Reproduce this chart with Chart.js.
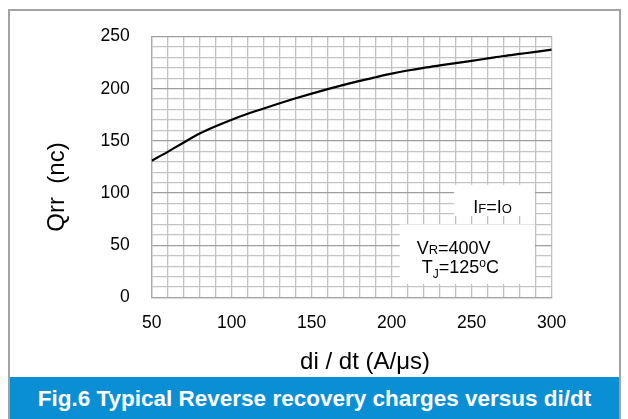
<!DOCTYPE html>
<html>
<head>
<meta charset="utf-8">
<script src="https://cdn.jsdelivr.net/npm/chart.js"></script>
<style>
body { margin: 0; background: #fff; font-family: "Liberation Sans", Arial, sans-serif; }
#frame { position: absolute; left: 8px; top: 9px; width: 609px; height: 408px; border: 2px solid #a3a3a3; border-bottom: none; pointer-events: none; }
#wrap { position: absolute; left: 0; top: 0; width: 628px; height: 377px; }
#caption { position: absolute; left: 10px; top: 377px; width: 609px; height: 42px; background: #0a8fd5; color: #fff;
  font-weight: bold; font-size: 22.5px; line-height: 43px; text-align: center; white-space: nowrap; }
</style>
</head>
<body>
<div id="wrap"><canvas id="qrrChart" width="628" height="377"></canvas></div>
<div id="frame"></div>
<div id="caption">Fig.6 Typical Reverse recovery charges versus di/dt</div>
<script>
// di/dt (A/us) and Qrr (nC)
var didt = [50, 60, 70, 80, 90, 100, 110, 120, 130, 140, 150, 160, 170, 180, 190, 200, 210, 220, 230, 240, 250, 260, 270, 280, 290, 300];
var qrr = [131, 139.5, 148.5, 157, 164, 170.3, 176, 181, 186, 190.8, 195.3, 199.6, 203.7, 207.5, 211, 214.4, 217.4, 220, 222.3, 224.5, 226.7, 229, 231.3, 233.3, 235.3, 237.4];
var xTickLabels = [50, 100, 150, 200, 250, 300];
var yTickLabels = [0, 50, 100, 150, 200, 250];

// condition boxes, placed in data units
var notes = [
    { box: [239, 108, 289.5, 78],
      lines: [{ x: 263, y: 87, center: true, runs: [['I', 18], ['F', 13], ['=', 18], ['I', 18], ['O', 13]] }] },
    { box: [205, 70, 289.5, 13],
      lines: [
          { x: 215.6, y: 48, runs: [['V', 18], ['R', 13], ['=400V', 18]] },
          { x: 218.8, y: 30, runs: [['T', 18], ['J', 12, 5], ['=125', 18], ['o', 12, -6], ['C', 18]] }
      ] }
];

var fontFamily = '"Liberation Sans", Arial, sans-serif';

var notesPlugin = {
    id: 'notes',
    afterDatasetsDraw: function(chart) {
        var ctx = chart.ctx;
        var xs = chart.scales.x, ys = chart.scales.y;
        ctx.save();
        notes.forEach(function(n) {
            var l = xs.getPixelForValue(n.box[0]), r = xs.getPixelForValue(n.box[2]);
            var t = ys.getPixelForValue(n.box[1]), b = ys.getPixelForValue(n.box[3]);
            ctx.fillStyle = '#fff';
            ctx.fillRect(l, t, r - l, b - t);
            ctx.fillStyle = '#000';
            ctx.textBaseline = 'alphabetic';
            n.lines.forEach(function(line) {
                var w = 0;
                line.runs.forEach(function(run) {
                    ctx.font = run[1] + 'px ' + fontFamily;
                    w += ctx.measureText(run[0]).width;
                });
                var px = xs.getPixelForValue(line.x);
                if (line.center) px -= w / 2;
                var base = ys.getPixelForValue(line.y) + 6.5;
                line.runs.forEach(function(run) {
                    ctx.font = run[1] + 'px ' + fontFamily;
                    ctx.fillText(run[0], px, base + (run[2] || 0));
                    px += ctx.measureText(run[0]).width;
                });
            });
        });
        ctx.restore();
    }
};

var ctx = document.getElementById('qrrChart').getContext('2d');

new Chart(ctx, {
    type: 'line',
    data: {
        datasets: [{
            data: didt.map(function(v, i) { return { x: v, y: qrr[i] }; }),
            borderColor: '#000',
            borderWidth: 2.2,
            cubicInterpolationMode: 'monotone',
            pointRadius: 0,
            fill: false
        }]
    },
    plugins: [notesPlugin],
    options: {
        responsive: false,
        animation: false,
        layout: { padding: { top: 36.5, right: 76.3, bottom: 0, left: 0 } },
        plugins: {
            legend: { display: false },
            tooltip: { enabled: false }
        },
        scales: {
            x: {
                type: 'linear',
                min: 50,
                max: 300,
                afterFit: function(s) { s.height = 79.5; },
                ticks: {
                    stepSize: 10,
                    autoSkip: false,
                    maxRotation: 0,
                    padding: 15,
                    color: '#000',
                    font: { family: fontFamily, size: 17.5 },
                    callback: function(v) { return xTickLabels.indexOf(v) >= 0 ? String(v) : ''; }
                },
                grid: { color: '#c0c0c0', lineWidth: 1.3, drawTicks: false },
                border: { color: '#a8a8a8', width: 1.3 },
                title: {
                    display: true,
                    text: '    di / dt (A/\u03bcs)',
                    color: '#000',
                    font: { family: fontFamily, size: 24 },
                    padding: { top: 0, bottom: 0 }
                }
            },
            y: {
                min: 0,
                max: 250,
                afterFit: function(s) { s.width = 151.7; },
                ticks: {
                    stepSize: 10,
                    autoSkip: false,
                    padding: 22,
                    color: '#000',
                    font: { family: fontFamily, size: 17.5 },
                    callback: function(v) { return yTickLabels.indexOf(v) >= 0 ? String(v) : ''; }
                },
                grid: {
                    color: function(c) { return c.tick && c.tick.value % 50 === 0 ? '#9e9e9e' : '#c4c4c4'; },
                    lineWidth: 1.3,
                    drawTicks: false
                },
                border: { color: '#a8a8a8', width: 1.3 },
                title: {
                    display: true,
                    text: 'Qrr  (nc)      ',
                    color: '#000',
                    font: { family: fontFamily, size: 24 },
                    padding: { top: 42.6, bottom: 0 }
                }
            }
        }
    }
});
</script>
</body>
</html>
